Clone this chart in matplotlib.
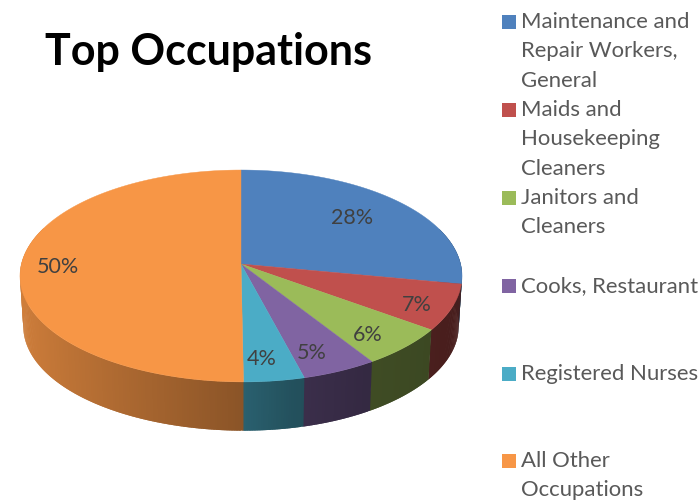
import numpy as np
import matplotlib
matplotlib.use('Agg')
import matplotlib.pyplot as plt
from matplotlib.colors import to_rgb

occupations = ['Maintenance and\nRepair Workers,\nGeneral', 'Maids and\nHousekeeping\nCleaners',
               'Janitors and\nCleaners', 'Cooks, Restaurant', 'Registered Nurses', 'All Other\nOccupations']
shares = [28, 7, 6, 5, 4, 50]
colors = ['#4F81BD', '#C0504D', '#9BBB59', '#8064A2', '#4BACC6', '#F79646']

# label anchors and legend rows, in pixels
label_xy = [(352, 218), (417, 305), (368, 335), (312, 353), (262, 359), (58, 267)]
legend_y = [22, 110, 198, 286, 374, 461]

plt.rcParams['font.family'] = ['Lato', 'DejaVu Sans']


def project(theta, drop=False):
    # tilted disc with a bit of perspective, theta runs clockwise from the top
    u, v = np.sin(theta), -np.cos(theta)
    w = 1 - 0.113 * v
    x, y = 219.6 * u / w + 2.5 * np.clip(v, 0, 1) ** 6, 104.6 * v / w
    if drop:
        x, y = x * 0.985, y * 0.985 + 50.5
    return 241 + x, 264 + y


def side_shade(theta):
    return np.interp(np.sin(theta), [-1, 0, 0.2, 0.5, 1], [0.84, 0.56, 0.47, 0.41, 0.37])


fig = plt.figure(figsize=(6.99, 5), dpi=100)
ax = fig.add_axes([0, 0, 1, 1])
ax.set_xlim(0, 699)
ax.set_ylim(500, 0)
ax.axis('off')

edges = np.deg2rad(np.cumsum([0] + shares) * 3.6)

# side wall, thin overlapping strips so the shading runs smooth along the rim
for i in range(len(shares)):
    base = np.array(to_rgb(colors[i]))
    steps = np.linspace(edges[i], edges[i + 1], max(2, shares[i] * 6 + 1))
    for a, b in zip(steps[:-1], steps[1:]):
        if np.cos((a + b) / 2) > 0.35:
            continue
        over = min(b + 0.01, edges[i + 1] + 0.004)
        xt, yt = project(np.array([a, over]))
        xb, yb = project(np.array([over, a]), drop=True)
        c = base * side_shade((a + b) / 2)
        ax.fill(np.r_[xt, xb], np.r_[yt, yb], color=c, lw=0, zorder=1)

# top face
for i in range(len(shares)):
    t = np.linspace(edges[i], edges[i + 1], 120)
    x, y = project(t)
    ax.fill(np.r_[241, x], np.r_[264, y], color=colors[i], lw=0.3, zorder=2)

for s, (x, y) in zip(shares, label_xy):
    ax.text(x, y, f'{s}%', fontsize=15.5, color='#404040', ha='center', va='center', zorder=3)

ax.text(45, 52, 'Top Occupations', fontsize=31, fontweight='bold', color='black', va='center')

for name, c, y in zip(occupations, colors, legend_y):
    ax.fill([502, 516, 516, 502], [y - 7, y - 7, y + 7, y + 7], color=c, lw=0)
    for j, line in enumerate(name.split('\n')):
        ax.text(521, y + j * 29.3, line, fontsize=15.9, color='#595959', va='center')

fig.savefig('out.png', dpi=100)
